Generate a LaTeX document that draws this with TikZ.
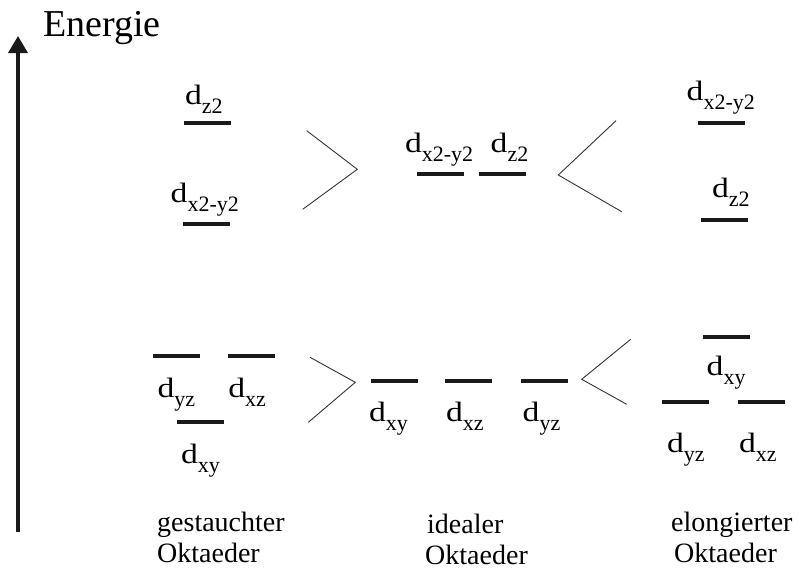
\documentclass[tikz,border=0pt]{standalone}
\usepackage{fontspec}
\usepackage{graphicx}
\setmainfont{Liberation Serif}
\usetikzlibrary{arrows.meta}
\definecolor{barcol}{HTML}{1A1A1A}
\definecolor{chevcol}{HTML}{333333}
\newcommand\orbl[1]{{\fontsize{28}{28}\selectfont\scalebox{1.2}[1]{d}}\raisebox{-9pt}{\fontsize{22}{22}\selectfont #1}}
\tikzset{
  level/.style={fill=barcol, minimum width=47pt, minimum height=4pt, inner sep=0pt, outer sep=0pt},
  lab/.style={anchor=base west, inner sep=0pt, outer sep=0pt},
  chev/.style={draw=chevcol, line width=0.9pt, line join=miter},
  caption/.style={anchor=base west, inner sep=0pt, font=\fontsize{28}{31}\selectfont, align=left},
}
\begin{document}
\begin{tikzpicture}[x=1pt,y=-1pt]
\path[use as bounding box] (0,0) rectangle (802,570);
% energy axis
\coordinate (ax0) at (18,532);
\coordinate (ax1) at (18,36);
\draw[line width=3.6pt, barcol, -{Triangle[width=19pt,length=17pt]}] (ax0) -- (ax1);
\node[anchor=base west, inner sep=0pt, font=\fontsize{38}{38}\selectfont] (energie) at (43,36.5) {Energie};
% left (gestaucht)
\node[level] (lu1) at (207.4,122.7) {};
\node[level] (lu2) at (206.4,224.3) {};
\node[lab] (tlu1) at (185,104) {\orbl{z2}};
\node[lab] (tlu2) at (170.7,202) {\orbl{x2-y2}};
\node[level] (ll1) at (176.4,355.7) {};
\node[level] (ll2) at (251.4,355.7) {};
\node[level] (ll3) at (200.4,421.7) {};
\node[lab] (tll1) at (157.5,397) {\orbl{yz}};
\node[lab] (tll2) at (228.3,397) {\orbl{xz}};
\node[lab] (tll3) at (181,463) {\orbl{xy}};
% middle (ideal)
\node[level] (mu1) at (440.4,174) {};
\node[level] (mu2) at (502.5,174) {};
\node[lab] (tmu1) at (405,152.5) {\orbl{x2-y2}};
\node[lab] (tmu2) at (490.7,152) {\orbl{z2}};
\node[level] (ml1) at (394.2,381) {};
\node[level] (ml2) at (468.4,381) {};
\node[level] (ml3) at (544.4,381) {};
\node[lab] (tml1) at (369,421) {\orbl{xy}};
\node[lab] (tml2) at (446,421) {\orbl{xz}};
\node[lab] (tml3) at (522.7,421) {\orbl{yz}};
% right (elongiert)
\node[level] (ru1) at (721.2,122.7) {};
\node[level] (ru2) at (724.5,220) {};
\node[lab] (tru1) at (686.7,100) {\orbl{x2-y2}};
\node[lab] (tru2) at (712,197) {\orbl{z2}};
\node[level] (rl1) at (726.7,336.7) {};
\node[level] (rl2) at (685.4,402.3) {};
\node[level] (rl3) at (761.7,402.3) {};
\node[lab] (trl1) at (706.7,375) {\orbl{xy}};
\node[lab] (trl2) at (667,452) {\orbl{yz}};
\node[lab] (trl3) at (739,452) {\orbl{xz}};
% chevrons
\coordinate (a1) at (306.7,130.7); \coordinate (a2) at (357.3,169.3); \coordinate (a3) at (302.7,209.3);
\coordinate (b1) at (310,357.3); \coordinate (b2) at (355.3,382.3); \coordinate (b3) at (308.3,422.3);
\coordinate (c1) at (616,120.7); \coordinate (c2) at (558.3,175); \coordinate (c3) at (621.7,211.7);
\coordinate (d1) at (630.7,339.3); \coordinate (d2) at (581.7,379.3); \coordinate (d3) at (626.7,404.3);
\draw[chev] (a1) -- (a2) -- (a3);
\draw[chev] (b1) -- (b2) -- (b3);
\draw[chev] (c1) -- (c2) -- (c3);
\draw[chev] (d1) -- (d2) -- (d3);
% captions (base anchor = last line)
\node[caption] (cap1) at (157,562) {gestauchter\\Oktaeder};
\node[caption] (cap2) at (427,564) {idealer\\\hspace*{-2pt}Oktaeder};
\node[caption] (cap3) at (671,562) {elongierter\\\hspace*{3pt}Oktaeder};
\end{tikzpicture}
\end{document}
